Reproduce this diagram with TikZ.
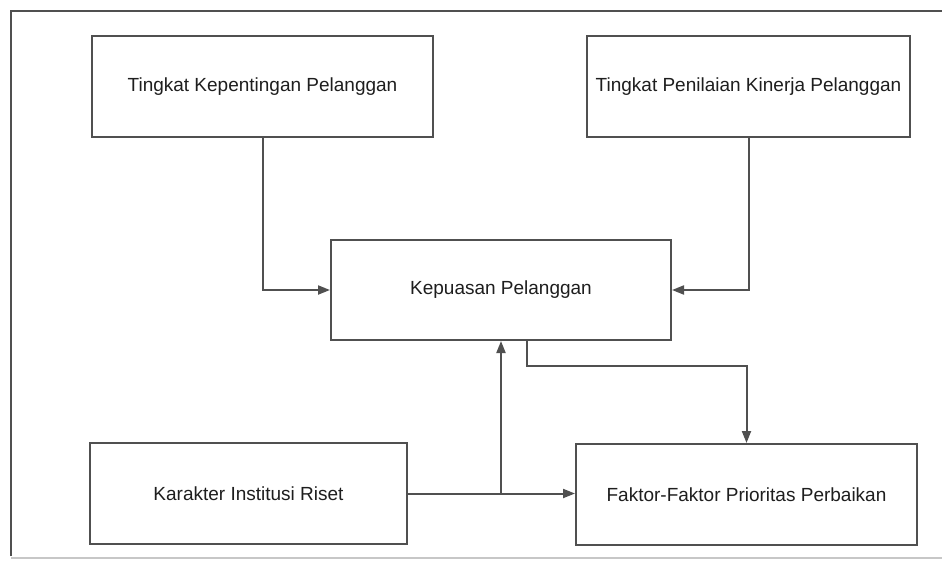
\documentclass[tikz,border=0pt]{standalone}
\usepackage{fontspec}
\setmainfont{Liberation Sans}
\usetikzlibrary{arrows.meta}
\definecolor{ln}{HTML}{505050}
\definecolor{tx}{HTML}{1E1E1E}
\tikzset{
  box/.style={draw=ln, line width=2pt, rectangle, inner sep=0pt, text=tx, font=\fontsize{19}{21}\selectfont},
  conn/.style={draw=ln, line width=2pt},
  arr/.style={conn, -{Triangle[length=12pt,width=9pt]}}
}
\begin{document}
\begin{tikzpicture}[x=1pt,y=-1pt]
\useasboundingbox (0,0) rectangle (942,565);
\fill[white] (0,0) rectangle (942,565);
% outer frame
\draw[ln, line width=2pt] (11,556) -- (11,11) -- (942,11);
\draw[black!22, line width=1.4pt] (11,558) -- (942,558);
% boxes
\node[box, minimum width=341pt, minimum height=101pt] (b1) at (262.5,86.5) {Tingkat Kepentingan Pelanggan};
\node[box, minimum width=323pt, minimum height=101pt] (b2) at (748.5,86.5) {Tingkat Penilaian Kinerja Pelanggan};
\node[box, minimum width=340pt, minimum height=100pt] (b3) at (501,290) {Kepuasan Pelanggan};
\node[box, minimum width=317pt, minimum height=101pt] (b4) at (248.5,493.5) {Karakter Institusi Riset};
\node[box, minimum width=341pt, minimum height=101pt] (b5) at (746.5,494.5) {Faktor-Faktor Prioritas Perbaikan};
% connectors
\draw[arr] (b1.south) |- (b3.west);
\draw[arr] (b2.south) |- (b3.east);
\coordinate (k) at (527,366);
\draw[arr] (b3.south -| k) -- (k) -| (b5.north);
\draw[arr] (b4.east) -- (b4.east -| b5.west);
\coordinate (j) at (b3.south |- b4.east);
\draw[arr] (j) -- (b3.south);
\end{tikzpicture}
\end{document}
